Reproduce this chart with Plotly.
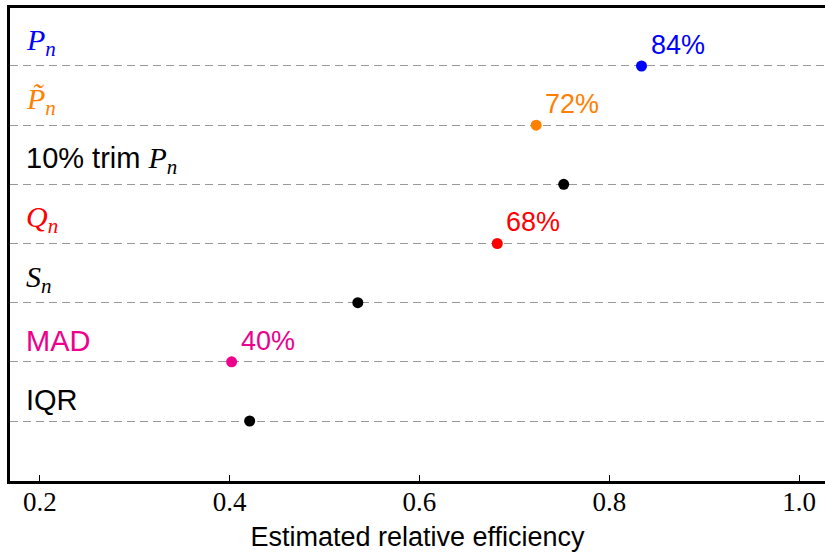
import plotly.graph_objects as go

categories = ["IQR", "MAD", "S_n", "Q_n", "10% trim P_n", "P~_n", "P_n"]
label_texts = [
    "IQR",
    "MAD",
    "<i>S</i><sub><i>n</i></sub>",
    "<i>Q</i><sub><i>n</i></sub>",
    "10% trim <span style='font-family:Liberation Serif;font-size:30px'><i>P</i><sub><i>n</i></sub></span>",
    "<i>P\u0303</i><sub><i>n</i></sub>",
    "<i>P</i><sub><i>n</i></sub>",
]
label_fonts = ["Liberation Sans", "Liberation Sans", "Liberation Serif", "Liberation Serif",
               "Liberation Sans", "Liberation Serif", "Liberation Serif"]
efficiency = [0.421, 0.402, 0.535, 0.682, 0.752, 0.723, 0.834]
colors = ["#000000", "#ec008c", "#000000", "#ff0000", "#000000", "#ff8000", "#0000ff"]
pct_labels = [None, "40%", None, "68%", None, "72%", "84%"]
row_pos = [0, 1, 2, 3, 4, 5, 6]
x_ticks = [0.2, 0.4, 0.6, 0.8, 1.0]
x_tick_text = ["0.2", "0.4", "0.6", "0.8", "1.0"]

fig = go.Figure()
fig.add_trace(go.Scatter(
    x=efficiency, y=row_pos, mode="markers",
    marker=dict(size=11, color=colors, line=dict(width=0)),
    hoverinfo="skip", showlegend=False,
))

annotations = []
for y, txt, fnt, col in zip(row_pos, label_texts, label_fonts, colors):
    annotations.append(dict(
        x=0.1831, y=y, xref="x", yref="y", text=txt, showarrow=False,
        xanchor="left", yanchor="bottom", yshift=3,
        font=dict(family=fnt, size=30 if fnt == "Liberation Serif" else 29, color=col),
    ))
for x, y, p, col in zip(efficiency, row_pos, pct_labels, colors):
    if p:
        annotations.append(dict(
            x=x, y=y, xref="x", yref="y", text=p, showarrow=False,
            xanchor="left", yanchor="bottom", xshift=7, yshift=4,
            font=dict(family="Liberation Sans", size=27, color=col),
        ))

fig.update_layout(
    width=825, height=553,
    margin=dict(l=10, r=0, t=8, b=72),
    paper_bgcolor="white", plot_bgcolor="white",
    annotations=annotations,
    xaxis=dict(
        range=[0.1684, 1.0274], tickvals=x_ticks, ticktext=x_tick_text,
        ticks="inside", ticklen=6, tickwidth=1, tickcolor="black",
        showgrid=False, zeroline=False,
        showline=True, linewidth=2.5, linecolor="black", mirror=True,
        tickfont=dict(family="Liberation Serif", size=27, color="black"),
        ticklabelstandoff=-5,
        title=dict(text="Estimated relative efficiency",
                   font=dict(family="Liberation Sans", size=27, color="black"),
                   standoff=11),
    ),
    yaxis=dict(
        range=[-1.014, 6.98], tickvals=row_pos, showticklabels=False, ticks="",
        showgrid=True, gridcolor="#999999", gridwidth=1.2, griddash="8px,5px",
        zeroline=False, showline=True, linewidth=2.5, linecolor="black", mirror=False,
    ),
)

fig.write_html("out.html", config={"displayModeBar": False},
               post_script="document.body.style.margin='0';document.body.style.overflow='hidden';")
